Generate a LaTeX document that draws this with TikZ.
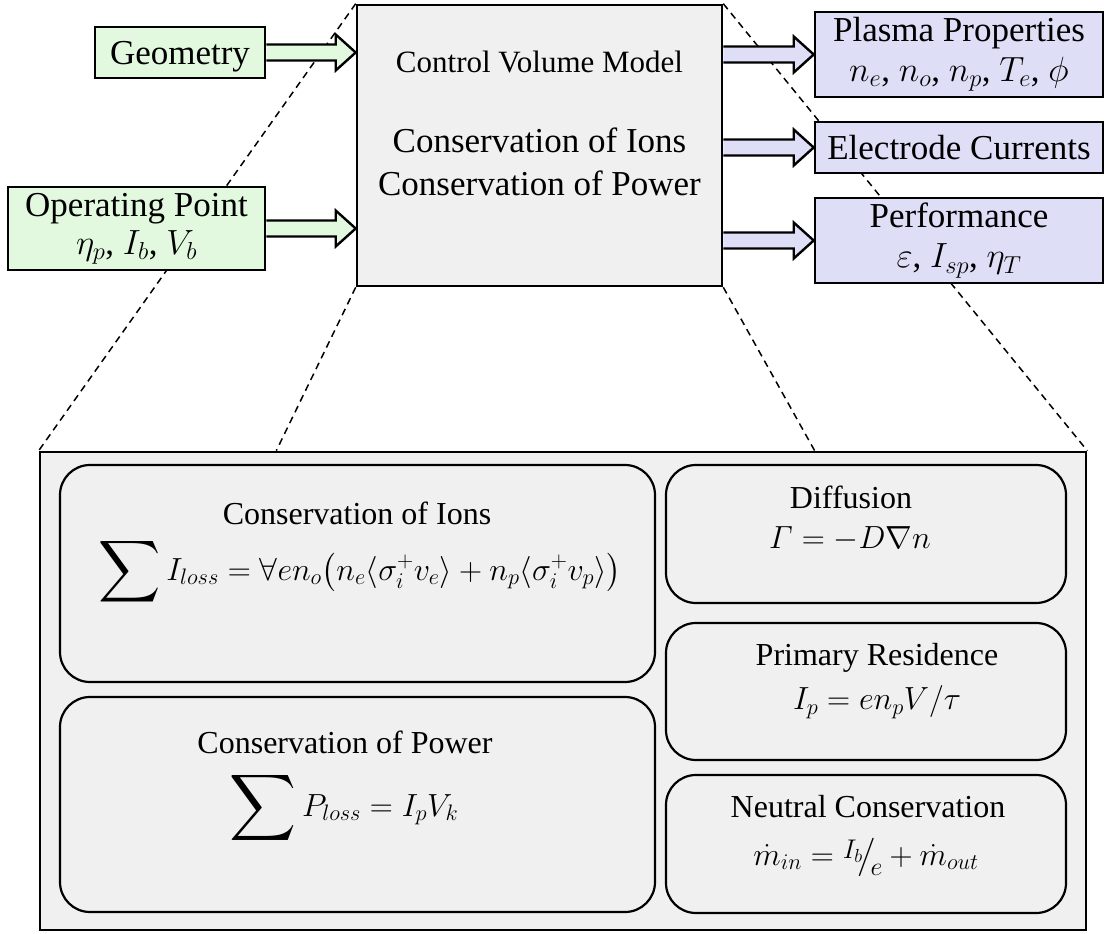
\RequirePackage{fix-cm}
\documentclass[tikz,border=0pt]{standalone}
\usepackage{amsmath,amssymb}
\usepackage{graphicx}
\usepackage{fontspec}
\setmainfont{Liberation Serif}
\usepackage{tikz}
\usetikzlibrary{calc,positioning,backgrounds}
\usepackage{xcolor}

\definecolor{geogreen}{RGB}{226,249,224}
\definecolor{outlilac}{RGB}{222,222,246}
\definecolor{cvgrey}{RGB}{240,240,240}

\tikzset{
  blk/.style={draw, line width=2.6pt, inner sep=0pt},
  inblk/.style={blk, fill=geogreen, font=\fontsize{35}{38}\selectfont, align=center},
  outblk/.style={blk, fill=outlilac, minimum width=288, font=\fontsize{35}{40}\selectfont, align=center},
  eqblk/.style={draw, line width=2.2pt, rounded corners=30pt, fill=cvgrey},
  fat/.style={line width=2.4pt},
  zoomln/.style={line width=1.5pt, dash pattern=on 7pt off 5pt},
  ttl/.style={font=\fontsize{32}{38}\selectfont},
}

% fat block arrow: from, to, fill
\newcommand{\fatarrow}[3]{%
  \draw[fat, fill=#3] ($(#1)+(0,-8)$) -- ($(#2)+(-20,-8)$) -- ($(#2)+(-20,-18)$)
    -- (#2) -- ($(#2)+(-20,18)$) -- ($(#2)+(-20,8)$) -- ($(#1)+(0,8)$);
}
\newcommand{\bigsum}[1]{\vcenter{\hbox{\scalebox{#1}{$\displaystyle\sum$}}}\,}
\newcommand{\slfrac}[2]{\raisebox{0.45ex}{\fontsize{27}{30}\selectfont$#1$}\!\big/\!\raisebox{-0.7ex}{\fontsize{26}{30}\selectfont$#2$}}

\begin{document}
\begin{tikzpicture}[x=1pt, y=-1pt]
  \useasboundingbox (0,0) rectangle (1104,934);

  % Control volume model
  \node[blk, fill=cvgrey, minimum width=365, minimum height=281] (cvm) at (539.5,145.5) {};
  \node[font=\fontsize{31}{36}\selectfont] (cvmname) at (539.5,62) {Control Volume Model};
  \node[font=\fontsize{35}{43}\selectfont, align=center] (cvmlaws) at (539.5,162) {Conservation of Ions\\Conservation of Power};

  % Inputs
  \node[inblk, minimum width=170, minimum height=51, text depth=0pt] (geo) at (180,52.5) {Geometry};
  \node[inblk, minimum width=257, minimum height=83] (opp) at (136.5,228.5) {Operating Point\\$\eta_p$, $I_b$, $V_b$};

  % Outputs
  \node[outblk, minimum height=85] (plasma) at (959,54.5) {Plasma Properties\\$n_e$, $n_o$, $n_p$, $T_e$, $\phi$};
  \node[outblk, minimum height=51] (elec) at (959,147.5) {Electrode Currents};
  \node[outblk, minimum height=85] (perf) at (959,240.5) {Performance\\$\varepsilon$, $I_{sp}$, $\eta_T$};

  % Arrows
  \foreach \src in {geo,opp} {
    \coordinate (\src-in) at (cvm.west |- \src.east);
    \fatarrow{\src.east}{\src-in}{geogreen}
  }
  \foreach \dst in {plasma,elec,perf} {
    \coordinate (\dst-out) at (cvm.east |- \dst.west);
    \fatarrow{\dst-out}{\dst.west}{outlilac}
  }

  % Detail of the model
  \node[blk, fill=cvgrey, minimum width=1046, minimum height=478] (detail) at (563,691) {};
  \node[eqblk, minimum width=595, minimum height=217] (ions) at (357.5,573.5) {};
  \node[eqblk, minimum width=595, minimum height=215] (power) at (357.5,804.5) {};
  \node[eqblk, minimum width=400, minimum height=138] (diff) at (866,534) {};
  \node[eqblk, minimum width=400, minimum height=137] (resid) at (866,691.5) {};
  \node[eqblk, minimum width=400, minimum height=138] (neutral) at (866,844) {};

  \node[ttl] (ionsttl) at (357,513) {Conservation of Ions};
  \node[ttl] (ionseq) at (360,572) {$\bigsum{1.35} I_{loss} = \forall e n_o\bigl(n_e\langle\sigma_i^+ v_e\rangle + n_p\langle\sigma_i^+ v_p\rangle\bigr)$};
  \node[ttl] (powerttl) at (345,742) {Conservation of Power};
  \node[ttl] (powereq) at (344,808) {$\bigsum{1.45} P_{loss} = I_p V_k$};
  \node[ttl] (diffttl) at (851,497) {Diffusion};
  \node[ttl] (diffeq) at (850,539) {$\varGamma = -D\nabla n$};
  \node[ttl] (residttl) at (877,658) {Primary Residence};
  \node[ttl] (resideq) at (877,702) {$I_p = e n_p V/\tau$};
  \node[ttl] (neutralttl) at (868,807) {Neutral Conservation};
  \node[ttl] (neutraleq) at (866,857) {$\dot m_{in} = \slfrac{I_b}{e} + \dot m_{out}$};

  % Zoom lines
  \coordinate (zl) at ($(detail.north west)!0.2266!(detail.north east)$);
  \coordinate (zr) at ($(detail.north west)!0.74!(detail.north east)$);
  \begin{scope}[on background layer]
    \draw[zoomln] (cvm.north west) -- (detail.north west);
    \draw[zoomln] (cvm.south west) -- (zl);
    \draw[zoomln] (cvm.south east) -- (zr);
    \draw[zoomln] (cvm.north east) -- (detail.north east);
  \end{scope}
\end{tikzpicture}
\end{document}
